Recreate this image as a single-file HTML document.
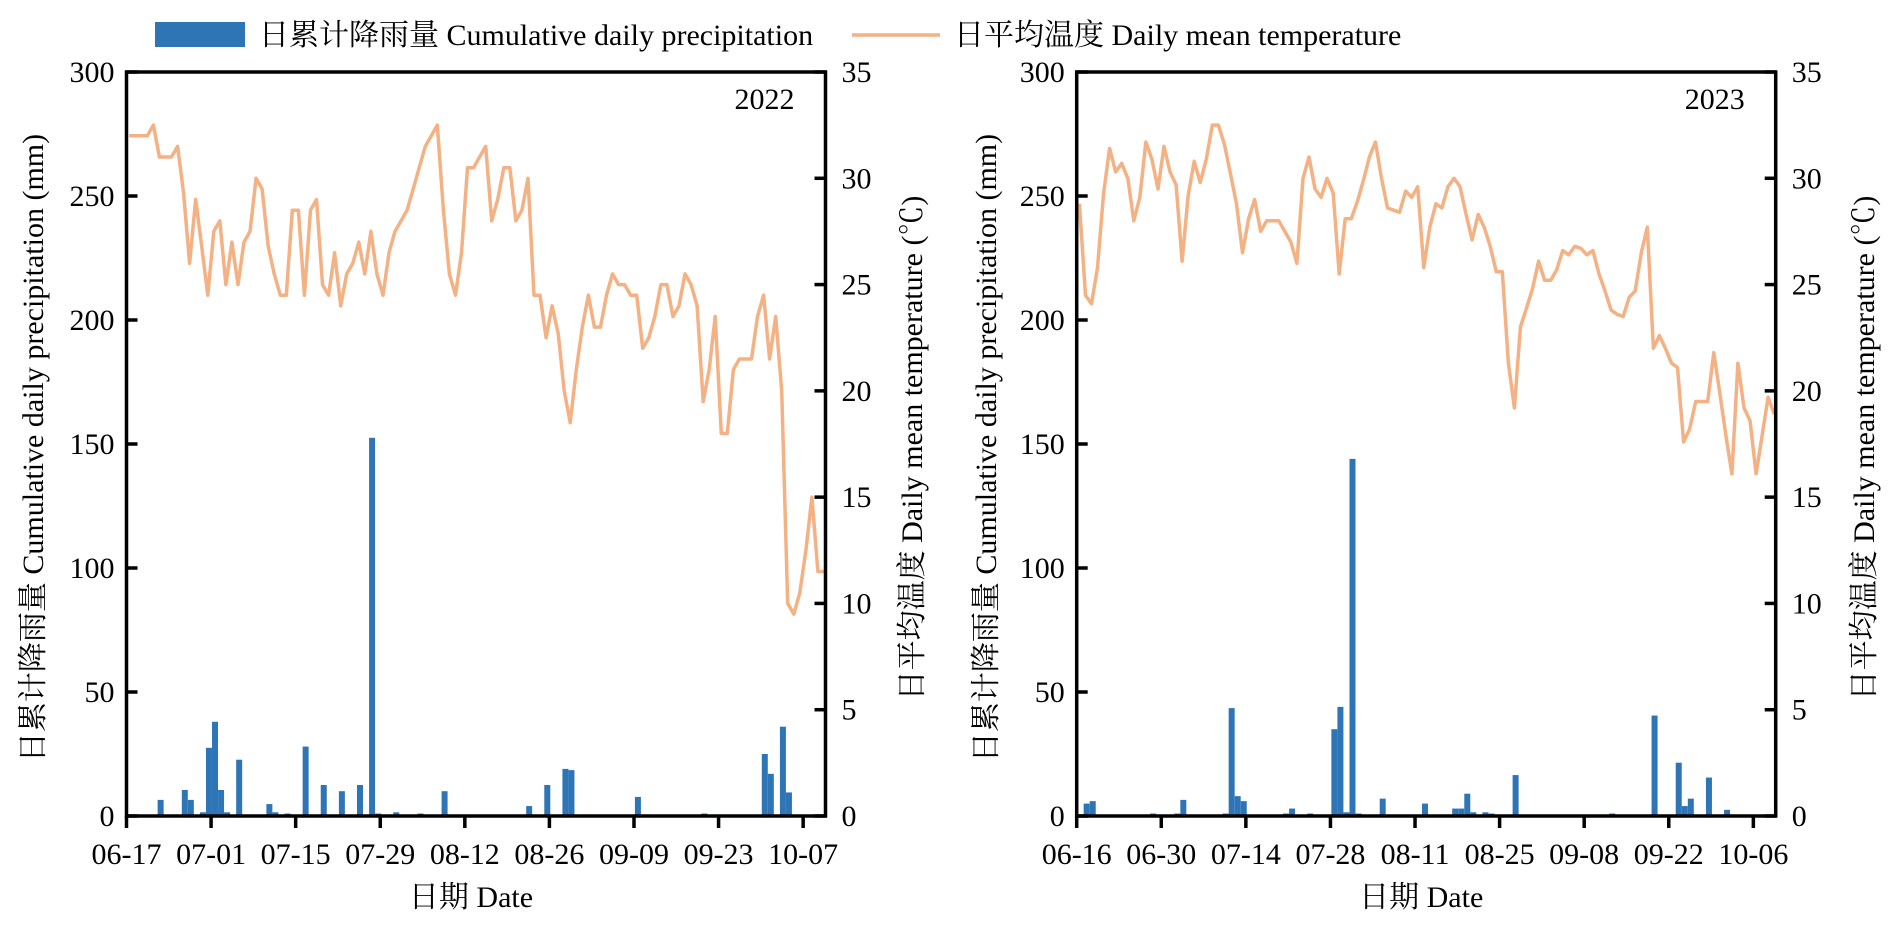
<!DOCTYPE html>
<html><head><meta charset="utf-8">
<style>
html,body{margin:0;padding:0;background:#fff;}
svg{display:block;}
text{font-family:"Liberation Serif","Noto Serif CJK SC","Noto Sans CJK SC",serif;fill:#000;}
</style></head>
<body>
<svg id="chart" xmlns="http://www.w3.org/2000/svg" width="1898" height="943" viewBox="0 0 1898 943">
  <g>
    <rect x="155" y="22" width="90" height="25" fill="#2E75B6"/>
    <text x="259" y="45" font-size="30">日累计降雨量 Cumulative daily precipitation</text>
    <line x1="852" y1="35" x2="940" y2="35" stroke="#F4B183" stroke-width="3.5"/>
    <text x="954" y="45" font-size="30">日平均温度 Daily mean temperature</text>
  </g>
  <g id="p2022"></g>
  <g id="p2023"></g>
</svg>
<script>
// ---- 2022 data ----
const xTicks2022 = ["06-17","07-01","07-15","07-29","08-12","08-26","09-09","09-23","10-07"];
const temp2022 = [32,32,32,32,32.5,31,31,31,31.5,29.3,26,29,26.8,24.5,27.5,28,25,27,25,27,27.5,30,29.5,26.8,25.5,24.5,24.5,28.5,28.5,24.5,28.5,29,25,24.5,26.5,24,25.5,26,27,25.5,27.5,25.5,24.5,26.5,27.5,28,28.5,29.5,30.5,31.5,32,32.5,28.5,25.5,24.5,26.5,30.5,30.5,31,31.5,28,29,30.5,30.5,28,28.5,30,24.5,24.5,22.5,24,22.7,20,18.5,21,23,24.5,23,23,24.5,25.5,25,25,24.5,24.5,22,22.5,23.5,25,25,23.5,24,25.5,25,24,19.5,21,23.5,18,18,21,21.5,21.5,21.5,23.5,24.5,21.5,23.5,20,10,9.5,10.5,12.5,15,11.5,11.5];
const rainDays2022 = [5,9,10,12,13,14,15,16,18,23,24,26,29,32,35,38,40,41,44,48,52,66,69,72,73,84,95,105,106,108,109];
const rainVals2022 = [6.5,10.5,6.5,1.5,27.5,38,10.5,1.5,22.7,4.8,1.5,1,28,12.5,10,12.5,152.5,1,1.5,1,10,4,12.5,19,18.5,7.7,1,25,17,36,9.5];
// ---- 2023 data ----
const xTicks2023 = ["06-16","06-30","07-14","07-28","08-11","08-25","09-08","09-22","10-06"];
const temp2023 = [28.8,24.5,24.1,25.8,29.3,31.4,30.3,30.7,30,28,29.1,31.7,30.9,29.5,31.5,30.3,29.7,26.1,29.2,30.8,29.8,30.9,32.5,32.5,31.6,30.2,28.8,26.5,28.1,29,27.5,28,28,28,27.5,27,26,30,31,29.5,29.1,30,29.3,25.5,28.1,28.1,28.9,29.9,31,31.7,30,28.6,28.5,28.4,29.4,29.1,29.6,25.8,27.7,28.8,28.6,29.6,30,29.6,28.3,27.1,28.3,27.7,26.8,25.6,25.6,21.3,19.2,23,23.9,24.8,26.1,25.2,25.2,25.7,26.6,26.4,26.8,26.7,26.4,26.6,25.5,24.7,23.8,23.6,23.5,24.4,24.7,26.5,27.7,22,22.6,22,21.3,21.1,17.6,18.2,19.5,19.5,19.5,21.8,19.9,17.9,16.1,21.3,19.2,18.6,16.1,17.9,19.7,18.9];
const rainDays2023 = [1,2,12,16,17,24,25,26,27,34,35,38,42,43,44,45,46,50,57,62,63,64,65,67,68,72,88,95,99,100,101,104,107];
const rainVals2023 = [5,6,1,1,6.5,1,43.5,8,6,1,3,1,35,44,1.5,144,1,7,5,3,3,9,1.5,1.5,1,16.5,1,40.5,21.5,4,7,15.5,2.5];

const yTicksL = [0,50,100,150,200,250,300];
const yTicksR = [0,5,10,15,20,25,30,35];
const NS = "http://www.w3.org/2000/svg";
function mk(tag, attrs, parent){const e=document.createElementNS(NS,tag);for(const k in attrs)e.setAttribute(k,attrs[k]);parent.appendChild(e);return e;}

function panel(g, x0, year, ticks, temps, rDays, rVals, leftTitleX, rightTitleX){
  const W=699, top=72, bot=816, H=bot-top, dayMax=115.7, tickStep=14;
  const xs=d=>x0+d*W/dayMax;
  const yL=v=>bot-v*H/300;
  const yR=v=>bot-v*H/35;
  rDays.forEach((d,i)=>{
    const r=mk('rect',{x:xs(d+0.65)-3,y:yL(rVals[i]),width:6,height:bot-yL(rVals[i]),fill:'#2E75B6'},g);
    
    
  });
  const pts=temps.map((t,i)=>xs(i+0.45).toFixed(1)+','+yR(t).toFixed(1)).join(' ');
  const pl=mk('polyline',{points:pts,fill:'none',stroke:'#F4B183','stroke-width':3.5,'stroke-linejoin':'round'},g);
  
  
  const fr=mk('rect',{x:x0,y:top,width:W,height:H,fill:'none',stroke:'#000','stroke-width':3.5},g);
  
  
  yTicksL.forEach(v=>{
    const y=yL(v);
    const l=mk('line',{x1:x0,x2:x0+11,y1:y,y2:y,stroke:'#000','stroke-width':3.5},g);
    
    
    const t=mk('text',{x:x0-12,y:y+10,'font-size':30,'text-anchor':'end'},g);
    t.textContent=v;
    
    
  });
  yTicksR.forEach(v=>{
    const y=yR(v);
    const l=mk('line',{x1:x0+W-11,x2:x0+W,y1:y,y2:y,stroke:'#000','stroke-width':3.5},g);
    
    
    const t=mk('text',{x:x0+W+16,y:y+10,'font-size':30},g);
    t.textContent=v;
    
    
  });
  ticks.forEach((s,i)=>{
    const x=xs(i*tickStep);
    const l=mk('line',{x1:x,x2:x,y1:bot,y2:bot+12,stroke:'#000','stroke-width':3.5},g);
    
    
    const t=mk('text',{x:x,y:864,'font-size':30,'text-anchor':'middle'},g);
    t.textContent=s;
    
    
  });
  const yl=mk('text',{x:x0+W-61,y:109,'font-size':30,'text-anchor':'middle'},g);
  yl.textContent=year;
  
  
  const xt=mk('text',{x:x0+W/2-5,y:907,'font-size':30,'text-anchor':'middle'},g);
  xt.textContent='日期 Date';
  
  
  const lt=mk('text',{x:0,y:0,'font-size':30,'text-anchor':'middle',transform:`translate(${leftTitleX},448) rotate(-90)`},g);
  lt.textContent='日累计降雨量 Cumulative daily precipitation (mm)';
  
  
  const rt=mk('text',{x:0,y:0,'font-size':30,'text-anchor':'middle',transform:`translate(${rightTitleX},448) rotate(-90)`},g);
  rt.textContent='日平均温度 Daily mean temperature (℃)';
  
  
}
panel(document.getElementById('p2022'),126.5,'2022',xTicks2022,temp2022,rainDays2022,rainVals2022,43,922);
panel(document.getElementById('p2023'),1076.7,'2023',xTicks2023,temp2023,rainDays2023,rainVals2023,996,1874);
</script>
</body></html>
